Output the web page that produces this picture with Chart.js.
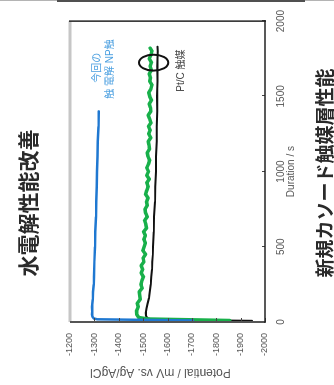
<!DOCTYPE html>
<html lang="ja">
<head>
<meta charset="utf-8">
<title>新規カソード触媒層性能</title>
<script src="https://cdn.jsdelivr.net/npm/chart.js@4"></script>
<style>
  html, body { margin: 0; padding: 0; background: #fff; overflow: hidden; }
  body { width: 334px; height: 385px; position: relative; }
  .rule { position: absolute; top: 0; }
  /* the slide content is laid out landscape and turned a quarter turn */
  #slide {
    position: absolute; left: 0; top: 0; width: 385px; height: 334px;
    transform-origin: 0 0; transform: translate(0, 385px) rotate(-90deg);
  }
  #chart { position: absolute; left: 0; top: 0; }
  .heading {
    position: absolute; white-space: nowrap; color: #2a2a2a;
    font-family: "Noto Sans CJK JP", sans-serif; font-weight: 700;
    transform: translate(-50%, -50%); line-height: 1;
  }
</style>
</head>
<body>
<div class="rule" style="left:0;width:57px;height:1px;background:#b4b4b4"></div>
<div class="rule" style="left:57px;width:248px;height:2px;background:#505050"></div>
<div class="rule" style="left:305px;width:29px;height:1px;background:#b4b4b4"></div>

<div id="slide">
  <canvas id="chart" width="385" height="334"></canvas>
  <div class="heading" style="left:182px;top:27px;font-size:21px">水電解性能改善</div>
  <div class="heading" style="left:212px;top:323px;font-size:19px">新規カソード触媒層性能</div>
</div>

<script>
// Chronopotentiometry: electrode potential over time for three cathodes
const durationTicks = [0, 500, 1000, 1500, 2000];
const potentialTicks = [-1200, -1300, -1400, -1500, -1600, -1700, -1800, -1900, -2000];
const potentialTitle = 'Potential / mV vs. Ag/AgCl';

// new NP catalyst
const npDuration = [10, 18, 24, 35, 50, 70, 100, 150, 200, 250, 300, 400, 500, 600, 700, 800, 900, 1000, 1100, 1200, 1300, 1400];
const npPotential = [-1705, -1312, -1297, -1292, -1290, -1291, -1290, -1293, -1294, -1297, -1298, -1300, -1303, -1304, -1307, -1308, -1310, -1311, -1313, -1314, -1317, -1318];

// comparison NP catalyst (noisy trace)
const refDuration = [10, 20, 30, 50,
  75, 100, 125, 150, 175, 200, 225, 250, 275, 300,
  325, 350, 375, 400, 425, 450, 475, 500, 525, 550,
  575, 600, 625, 650, 675, 700, 725, 750, 775, 800,
  825, 850, 875, 900, 925, 950, 975, 1000, 1025, 1050,
  1075, 1100, 1125, 1150, 1175, 1200, 1225, 1250, 1275, 1300,
  1325, 1350, 1375, 1400, 1425, 1450, 1475, 1500, 1525, 1550,
  1575, 1600, 1625, 1650, 1675, 1700, 1725, 1750, 1775, 1800, 1820];
const refPotential = [-1855, -1520, -1482, -1474,
  -1473, -1480, -1476, -1488, -1486, -1484, -1496, -1491, -1495, -1501,
  -1492, -1498, -1492, -1503, -1500, -1510, -1499, -1504, -1509, -1503,
  -1509, -1502, -1514, -1511, -1506, -1517, -1510, -1508, -1517, -1514,
  -1520, -1510, -1515, -1521, -1515, -1525, -1515, -1522, -1515, -1522,
  -1527, -1520, -1517, -1526, -1524, -1521, -1531, -1523, -1529, -1522,
  -1532, -1527, -1521, -1531, -1530, -1525, -1534, -1527, -1523, -1532,
  -1536, -1527, -1530, -1525, -1534, -1529, -1534, -1525, -1532, -1536, -1529];

// Pt/C catalyst
const ptcDuration = [8, 15, 25, 40, 60, 90, 120, 160, 200, 250, 300, 350, 400, 450, 500, 600, 700, 800, 900, 1000, 1100, 1200, 1300, 1400, 1500, 1600, 1700, 1800, 1830];
const ptcPotential = [-1947, -1540, -1518, -1512, -1511, -1514, -1518, -1524, -1527, -1531, -1533, -1536, -1537, -1540, -1541, -1544, -1545, -1549, -1550, -1553, -1553, -1556, -1556, -1558, -1557, -1559, -1558, -1560, -1559];

// ring marking the Pt/C end point (centre and half-axes in data units)
const ringCenter = { duration: 1724, potential: -1543 };
const ringRadius = { duration: 53, potential: 60 };

// in-plot captions
const captions = [
  { text: '今回の', duration: 1690, potential: -1313, color: '#4a9fe0' },
  { text: '触 電解 NP触', duration: 1682, potential: -1364, color: '#4a9fe0' },
  { text: 'Pt/C 触媒', duration: 1671, potential: -1655, color: '#444' }
];

const toPoints = (xs, ys) => xs.map((x, i) => ({ x, y: ys[i] }));
const FONT = '"Liberation Sans", Arial, "Noto Sans CJK JP", sans-serif';
Chart.defaults.font.family = FONT;

const frameAndMarks = {
  id: 'frameAndMarks',
  afterDatasetsDraw(chart) {
    const { ctx, chartArea: a, scales: { x, y } } = chart;
    ctx.save();
    // inward tick marks
    ctx.strokeStyle = '#444';
    ctx.lineWidth = 1;
    y.ticks.forEach(t => {
      const py = Math.round(y.getPixelForValue(t.value)) + 0.5;
      ctx.beginPath(); ctx.moveTo(a.left, py); ctx.lineTo(a.left + 4, py); ctx.stroke();
    });
    x.ticks.forEach(t => {
      const px = Math.round(x.getPixelForValue(t.value)) + 0.5;
      ctx.beginPath(); ctx.moveTo(px, a.bottom); ctx.lineTo(px, a.bottom - 3); ctx.stroke();
    });
    // frame
    const edge = (x1, y1, x2, y2, c, w) => {
      ctx.strokeStyle = c; ctx.lineWidth = w;
      ctx.beginPath(); ctx.moveTo(x1, y1); ctx.lineTo(x2, y2); ctx.stroke();
    };
    edge(a.left, a.top, a.right, a.top, '#c6c6c6', 3);
    edge(a.left, a.top, a.left, a.bottom, '#555', 2);
    edge(a.left - 1, a.bottom, a.right + 1, a.bottom, '#222', 1.5);
    edge(a.right, a.top - 1, a.right, a.bottom + 1, '#222', 1.5);

    // ring
    const cx = x.getPixelForValue(ringCenter.duration);
    const cy = y.getPixelForValue(ringCenter.potential);
    const rx = Math.abs(x.getPixelForValue(ringCenter.duration + ringRadius.duration) - cx);
    const ry = Math.abs(y.getPixelForValue(ringCenter.potential + ringRadius.potential) - cy);
    ctx.strokeStyle = '#111';
    ctx.lineWidth = 2;
    ctx.beginPath(); ctx.ellipse(cx, cy, rx, ry, 0, 0, Math.PI * 2); ctx.stroke();

    // captions
    ctx.font = '10px ' + FONT;
    ctx.textAlign = 'center';
    ctx.textBaseline = 'middle';
    captions.forEach(c => {
      ctx.fillStyle = c.color;
      ctx.fillText(c.text, x.getPixelForValue(c.duration), y.getPixelForValue(c.potential));
    });

    // potential axis title, set a little above the axis middle
    ctx.font = '12px ' + FONT;
    ctx.fillStyle = '#555';
    ctx.translate(13, (a.top + a.bottom) / 2 - 7);
    ctx.rotate(-Math.PI / 2);
    ctx.fillText(potentialTitle, 0, 0);
    ctx.restore();
  }
};

new Chart(document.getElementById('chart'), {
  type: 'line',
  data: {
    datasets: [
      { label: '今回の NP触媒', data: toPoints(npDuration, npPotential), borderColor: '#1f78d1', borderWidth: 2.5 },
      { label: 'NP触媒', data: toPoints(refDuration, refPotential), borderColor: '#18b04a', borderWidth: 3.5 },
      { label: 'Pt/C 触媒', data: toPoints(ptcDuration, ptcPotential), borderColor: '#111', borderWidth: 2 }
    ]
  },
  options: {
    responsive: false,
    animation: false,
    parsing: false,
    layout: { padding: { left: 0, right: 18, top: 70, bottom: 37 } },
    elements: {
      point: { radius: 0 },
      line: { tension: 0, borderJoinStyle: 'round', borderCapStyle: 'round' }
    },
    plugins: { legend: { display: false }, tooltip: { enabled: false } },
    scales: {
      x: {
        type: 'linear', min: 0, max: 2000,
        afterBuildTicks: s => { s.ticks = durationTicks.map(v => ({ value: v })); },
        afterFit: s => { s.height = 32; },
        grid: { display: false, drawTicks: false },
        border: { display: false },
        ticks: { padding: 10, color: '#555', font: { size: 10 }, maxRotation: 0, autoSkip: false, callback: v => String(v) },
        title: { display: true, text: 'Duration / s', color: '#555', font: { size: 10 }, padding: 0 }
      },
      y: {
        type: 'linear', min: -2000, max: -1200,
        afterBuildTicks: s => { s.ticks = potentialTicks.map(v => ({ value: v })); },
        afterFit: s => { s.width = 63; },
        grid: { display: false, drawTicks: false },
        border: { display: false },
        ticks: { padding: 11, color: '#555', font: { size: 9 }, autoSkip: false, callback: v => String(v) }
      }
    }
  },
  plugins: [frameAndMarks]
});
</script>
</body>
</html>
